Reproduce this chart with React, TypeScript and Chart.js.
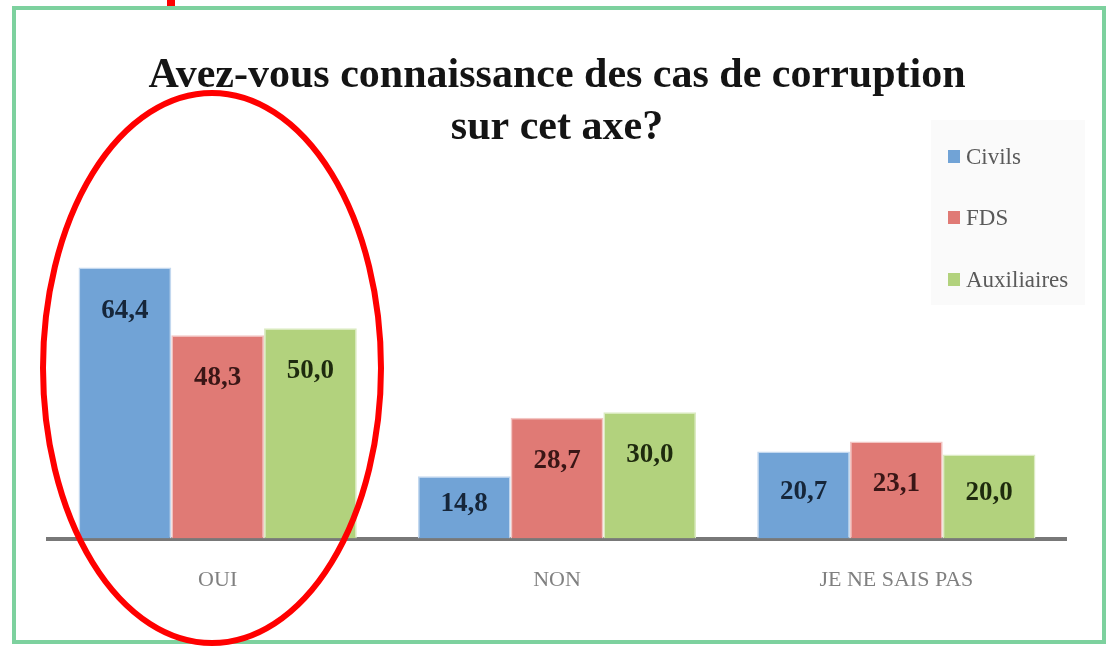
import React, { useEffect, useRef } from "react";
import { Chart, registerables } from "chart.js";

Chart.register(...registerables);

const TITLE_LINES = ["Avez-vous connaissance des cas de corruption", "sur cet axe?"];
const categories = ["OUI", "NON", "JE NE SAIS PAS"];
const seriesNames = ["Civils", "FDS", "Auxiliaires"];
const civils = [64.4, 14.8, 20.7];
const fds = [48.3, 28.7, 23.1];
const auxiliaires = [50.0, 30.0, 20.0];
const seriesColors = ["#71a3d6", "#e07a75", "#b2d27d"];
const seriesEdges = ["#c3d8ef", "#f3c5c3", "#dcebc3"];
const labelColors = ["#16263a", "#3a1616", "#1e2a0e"];

const fmt = (v: number) => v.toFixed(1).replace(".", ",");

export default function App() {
  const ref = useRef<HTMLCanvasElement | null>(null);

  useEffect(() => {
    if (!ref.current) return;
    const W = 1107;
    const H = 646;

    const frame = {
      id: "frame",
      beforeDraw(chart: any) {
        const ctx = chart.ctx;
        ctx.save();
        ctx.fillStyle = "#ffffff";
        ctx.fillRect(0, 0, W, H);
        ctx.restore();
      },
      afterDraw(chart: any) {
        const ctx = chart.ctx;
        ctx.save();
        // green frame
        ctx.strokeStyle = "#7dd19e";
        ctx.lineWidth = 4;
        ctx.strokeRect(14, 8, 1090, 634);
        // red mark at top
        ctx.fillStyle = "#ff0000";
        ctx.fillRect(167, 0, 8, 6);
        // title
        ctx.fillStyle = "#141414";
        ctx.font = "bold 42px 'Liberation Serif', serif";
        ctx.textAlign = "center";
        ctx.textBaseline = "middle";
        ctx.fillText(TITLE_LINES[0], 557, 76);
        ctx.fillText(TITLE_LINES[1], 557, 128);

        // legend box
        ctx.fillStyle = "#fafafa";
        ctx.fillRect(931, 120, 154, 185);
        const ys = [157, 218, 280];
        chart.data.datasets.forEach((ds: any, i: number) => {
          ctx.fillStyle = ds.backgroundColor;
          ctx.fillRect(948, ys[i] - 7, 12, 13);
          ctx.fillStyle = "#5a5a5a";
          ctx.font = "23px 'Liberation Serif', serif";
          ctx.textAlign = "left";
          ctx.textBaseline = "middle";
          ctx.fillText(ds.label, 966, ys[i] + 1);
        });

        // data labels
        chart.data.datasets.forEach((ds: any, i: number) => {
          const meta = chart.getDatasetMeta(i);
          meta.data.forEach((bar: any, j: number) => {
            const v = ds.data[j];
            const top = bar.y;
            const base = bar.base;
            const y = Math.min(top + 43, (top + base) / 2 - 3);
            ctx.fillStyle = labelColors[i];
            ctx.font = "bold 27px 'Liberation Serif', serif";
            ctx.textAlign = "center";
            ctx.textBaseline = "middle";
            ctx.fillText(fmt(v), bar.x, y);
          });
        });

        // red ellipse annotation
        ctx.strokeStyle = "#ff0000";
        ctx.lineWidth = 6;
        ctx.beginPath();
        ctx.ellipse(212, 368, 169, 275, 0, 0, Math.PI * 2);
        ctx.stroke();
        ctx.restore();
      },
    };

    const chart = new Chart(ref.current, {
      type: "bar",
      data: {
        labels: categories,
        datasets: [civils, fds, auxiliaires].map((d, i) => ({
          label: seriesNames[i],
          data: d,
          backgroundColor: seriesColors[i],
          borderColor: seriesEdges[i],
          borderWidth: 1.5,
          categoryPercentage: 0.82,
          barPercentage: 1.0,
        })),
      },
      options: {
        responsive: false,
        animation: false,
        layout: { padding: { left: 48, right: 41, top: 244, bottom: 25 } },
        plugins: {
          legend: { display: false },
          title: { display: false },
          tooltip: { enabled: false },
        },
        scales: {
          x: {
            grid: { display: false, drawTicks: false },
            border: { display: true, color: "#787878", width: 4 },
            ticks: {
              color: "#808080",
              padding: 28,
              font: { family: "'Liberation Serif', serif", size: 22 },
            },
          },
          y: {
            display: false,
            min: 0,
            max: 70,
          },
        },
      },
      plugins: [frame],
    });

    return () => chart.destroy();
  }, []);

  return (
    <div style={{ position: "absolute", left: 0, top: 0, width: 1107, height: 646 }}>
      <canvas ref={ref} width={1107} height={646} style={{ display: "block" }} />
    </div>
  );
}
